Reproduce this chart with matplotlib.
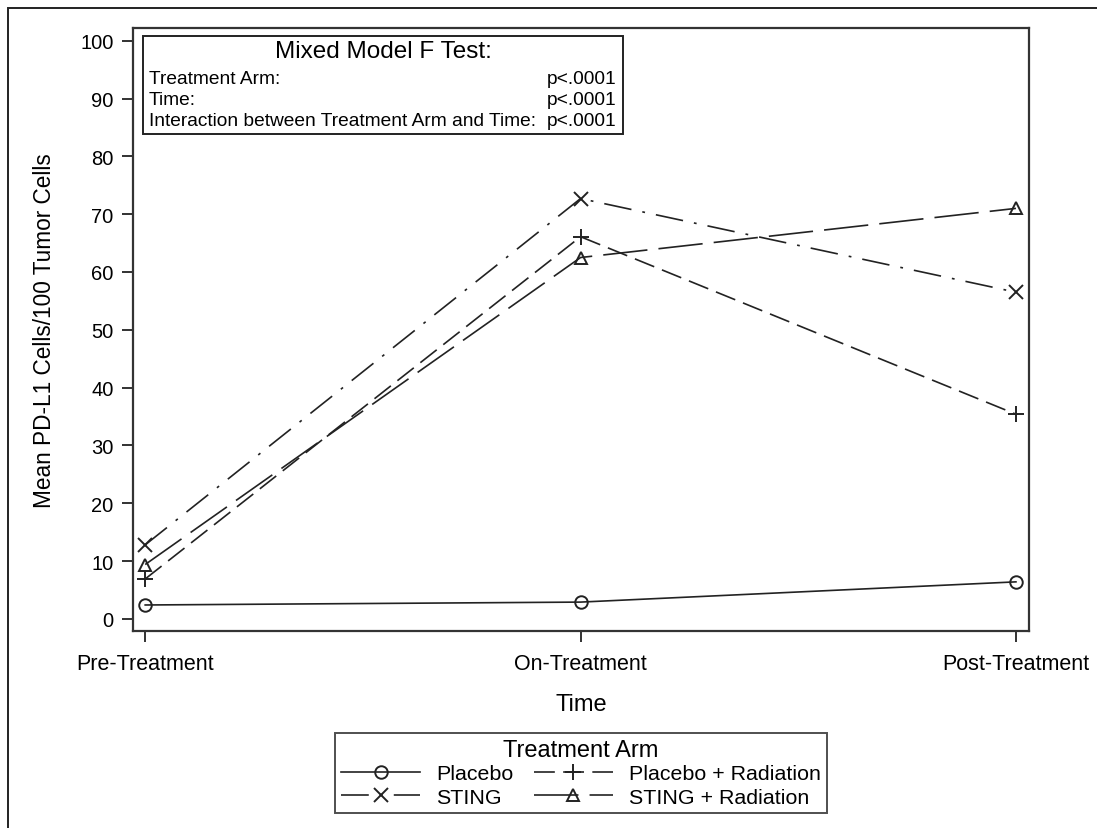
import matplotlib.pyplot as plt
from matplotlib.patches import Rectangle

plt.rcParams['font.family'] = ['Liberation Sans', 'DejaVu Sans']
plt.rcParams['lines.scale_dashes'] = False

timepoints = ['Pre-Treatment', 'On-Treatment', 'Post-Treatment']
arms = ['Placebo', 'Placebo + Radiation', 'STING', 'STING + Radiation']
placebo = [2.4, 2.9, 6.4]
placebo_rad = [6.9, 66.1, 35.4]
sting = [12.8, 72.7, 56.5]
sting_rad = [9.4, 62.5, 71.0]
yticks = [0, 10, 20, 30, 40, 50, 60, 70, 80, 90, 100]
ftest_rows = ['Treatment Arm:', 'Time:', 'Interaction between Treatment Arm and Time:']
ftest_p = ['p<.0001', 'p<.0001', 'p<.0001']

W, H = 1097, 829
fig = plt.figure(figsize=(W / 100, H / 100), dpi=100)

def fx(px):
    return px / W

def fy(py):
    return 1 - py / H

# outer frame of the graphic
fig.patches.append(Rectangle((fx(8), -0.1), 1.2, fy(9) + 0.1, transform=fig.transFigure,
                             fill=False, edgecolor='#222222', linewidth=1.4))

ax = fig.add_axes([fx(133), fy(632), fx(1029) - fx(133), fy(29) - fy(632)])
col = '#222222'
x = list(range(len(timepoints)))
styles = [
    dict(linestyle='-', marker='o', markersize=9),
    dict(linestyle=(0, (15, 6)), marker='+', markersize=11),
    dict(linestyle=(0, (20, 8, 2, 8)), marker='x', markersize=10),
    dict(linestyle=(0, (32, 8)), marker='^', markersize=9),
]
lines = {}
for vals, name, st in zip([placebo, placebo_rad, sting, sting_rad], arms, styles):
    lines[name], = ax.plot(x, vals, color=col, linewidth=1.2, markerfacecolor='none',
                           markeredgecolor=col, markeredgewidth=1.4, label=name, **st)

ax.set_xlim(-0.028, 2.03)
ax.set_ylim(-2.1, 102.2)
ax.set_xticks(x)
ax.set_xticklabels(timepoints)
ax.set_yticks(yticks)
ax.tick_params(length=8, width=1.3, color=col)
ax.tick_params(axis='x', labelsize=15.5, pad=8)
ax.tick_params(axis='y', labelsize=14.5, pad=6)
for s in ax.spines.values():
    s.set_linewidth(1.6)
    s.set_color('#333333')
ax.set_xlabel('Time', fontsize=17)
ax.set_ylabel('Mean PD-L1 Cells/100 Tumor Cells', fontsize=16.3)
ax.xaxis.set_label_coords(0.5, -0.103)
ax.yaxis.set_label_coords(-0.086, 0.5)

# F test inset
fig.patches.append(Rectangle((fx(143), fy(135)), fx(623) - fx(143), fy(37) - fy(135),
                             transform=fig.transFigure, fill=False,
                             edgecolor='#222222', linewidth=1.4))
fig.text(fx(383), fy(52), 'Mixed Model F Test:', fontsize=17.5, ha='center', va='center')
for i, (lab, p) in enumerate(zip(ftest_rows, ftest_p)):
    yy = fy(79 + i * 21.5)
    fig.text(fx(149), yy, lab, fontsize=13.8, ha='left', va='center')
    fig.text(fx(616), yy, p, fontsize=13.8, ha='right', va='center')

# legend entries read across rows
order = ['Placebo', 'STING', 'Placebo + Radiation', 'STING + Radiation']
leg = fig.legend([lines[k] for k in order], order, ncol=2, loc='center',
                 bbox_to_anchor=(fx(581), fy(774)),
                 title='Treatment Arm', fontsize=15.4, title_fontsize=17,
                 handlelength=3.7, handletextpad=0.75, columnspacing=0.95,
                 labelspacing=0.22, borderpad=0.3, fancybox=False)
leg.get_frame().set_edgecolor('#222222')
leg.get_frame().set_linewidth(1.4)
leg._legend_box.sep = 2

fig.savefig('out.png', dpi=100)
